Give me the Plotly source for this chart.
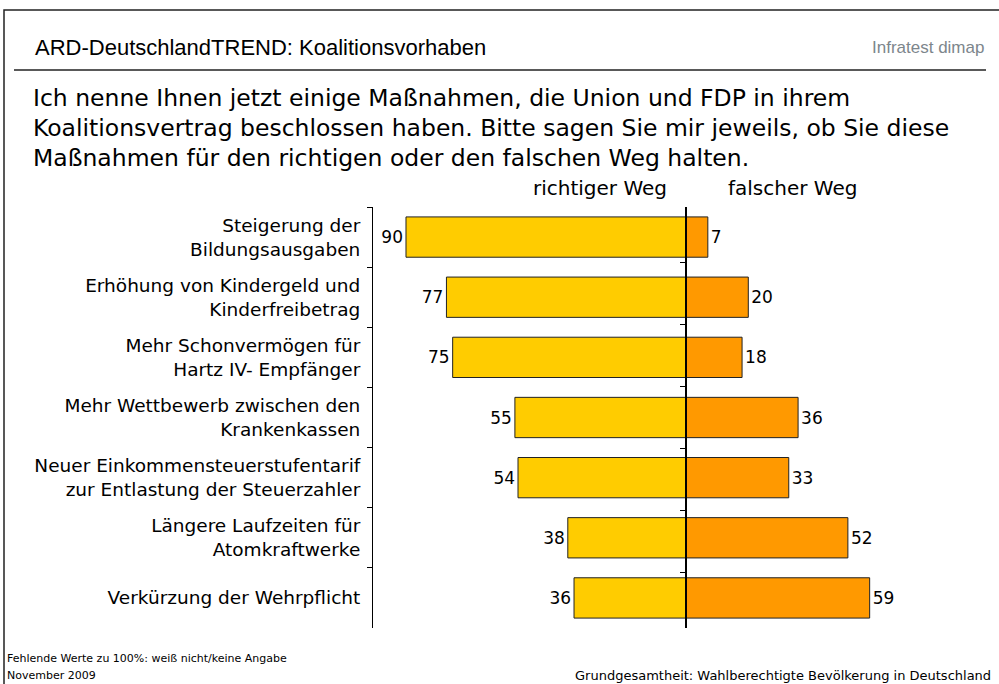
import plotly.graph_objects as go

# ---------------- data ----------------
categories = [
    "Steigerung der<br>Bildungsausgaben",
    "Erhöhung von Kindergeld und<br>Kinderfreibetrag",
    "Mehr Schonvermögen für<br>Hartz IV- Empfänger",
    "Mehr Wettbewerb zwischen den<br>Krankenkassen",
    "Neuer Einkommensteuerstufentarif<br>zur Entlastung der Steuerzahler",
    "Längere Laufzeiten für<br>Atomkraftwerke",
    "Verkürzung der Wehrpflicht",
]
richtiger_weg = [90, 77, 75, 55, 54, 38, 36]
falscher_weg = [7, 20, 18, 36, 33, 52, 59]
series_names = ["richtiger Weg", "falscher Weg"]

title_text = "ARD-DeutschlandTREND: Koalitionsvorhaben"
brand_text = "Infratest dimap"
question_lines = [
    "Ich nenne Ihnen jetzt einige Maßnahmen, die Union und FDP in ihrem",
    "Koalitionsvertrag beschlossen haben. Bitte sagen Sie mir jeweils, ob Sie diese",
    "Maßnahmen für den richtigen oder den falschen Weg halten.",
]
footer_left = ["Fehlende Werte zu 100%: weiß nicht/keine Angabe", "November 2009"]
footer_right = "Grundgesamtheit: Wahlberechtigte Bevölkerung in Deutschland"

# ---------------- layout constants ----------------
W, H = 999, 684
ML, MR, MT, MB = 373, 17, 207, 56
XMIN, XMAX = -100.6, 95.1
YELLOW = "#FFCC00"
ORANGE = "#FF9900"
BODY = "DejaVu Sans"
PW = W - ML - MR
PH = H - MT - MB


def px(xpix):
    return (xpix - ML) / PW


def py(ypix):
    return (H - MB - ypix) / PH


fig = go.Figure()

fig.add_trace(go.Bar(
    y=categories, x=[-v for v in richtiger_weg], orientation="h",
    name=series_names[0], marker=dict(color=YELLOW, line=dict(color="#222", width=1)),
    text=[str(v) for v in richtiger_weg], textposition="outside",
    textfont=dict(family=BODY, size=17, color="black"),
    cliponaxis=False, constraintext="none", hoverinfo="skip",
))
fig.add_trace(go.Bar(
    y=categories, x=falscher_weg, orientation="h",
    name=series_names[1], marker=dict(color=ORANGE, line=dict(color="#222", width=1)),
    text=[str(v) for v in falscher_weg], textposition="outside",
    textfont=dict(family=BODY, size=17, color="black"),
    cliponaxis=False, constraintext="none", hoverinfo="skip",
))
# invisible helper trace for the centre axis
fig.add_trace(go.Scatter(y=categories, x=[0] * len(categories), yaxis="y2",
                         mode="markers", marker=dict(opacity=0), hoverinfo="skip",
                         showlegend=False))

center_pos = (0 - XMIN) / (XMAX - XMIN)

annotations = []
annotations.append(dict(x=px(33), y=py(47), xref="paper", yref="paper", text=title_text,
                        showarrow=False, xanchor="left", yanchor="middle",
                        font=dict(family="Liberation Sans", size=22, color="black")))
annotations.append(dict(x=px(986), y=py(47), xref="paper", yref="paper", text=brand_text,
                        showarrow=False, xanchor="right", yanchor="middle",
                        font=dict(family="Liberation Sans", size=17, color="#7d868c")))
for i, line in enumerate(question_lines):
    annotations.append(dict(x=px(31), y=py(98 + 30 * i), xref="paper", yref="paper",
                            text=line, showarrow=False, xanchor="left", yanchor="middle",
                            font=dict(family=BODY, size=23.5, color="black")))
annotations.append(dict(x=px(600), y=py(188), xref="paper", yref="paper", text=series_names[0],
                        showarrow=False, xanchor="center", yanchor="middle",
                        font=dict(family=BODY, size=20, color="black")))
annotations.append(dict(x=px(792), y=py(188), xref="paper", yref="paper", text=series_names[1],
                        showarrow=False, xanchor="center", yanchor="middle",
                        font=dict(family=BODY, size=20, color="black")))
for i, line in enumerate(footer_left):
    annotations.append(dict(x=px(5), y=py(658 + 17 * i), xref="paper", yref="paper", text=line,
                            showarrow=False, xanchor="left", yanchor="middle",
                            font=dict(family=BODY, size=11, color="black")))
annotations.append(dict(x=px(993), y=py(675), xref="paper", yref="paper", text=footer_right,
                        showarrow=False, xanchor="right", yanchor="middle",
                        font=dict(family=BODY, size=13, color="black")))

shapes = [
    # outer frame
    dict(type="rect", xref="paper", yref="paper", x0=px(4), x1=px(1010), y0=py(700), y1=py(10),
         line=dict(color="#222", width=1.5), fillcolor="rgba(0,0,0,0)", layer="below"),
    # title underline
    dict(type="line", xref="paper", yref="paper", x0=px(14), x1=px(986), y0=py(70), y1=py(70),
         line=dict(color="#222", width=1.5)),
]

fig.update_layout(
    width=W, height=H,
    margin=dict(l=ML, r=MR, t=MT, b=MB, pad=0),
    paper_bgcolor="white", plot_bgcolor="white",
    barmode="relative", bargap=0.33,
    showlegend=False,
    xaxis=dict(range=[XMIN, XMAX], visible=False, fixedrange=True),
    yaxis=dict(type="category", categoryorder="array", categoryarray=categories,
               autorange="reversed", tickson="boundaries", ticks="outside", ticklen=5,
               tickcolor="black", tickwidth=1, showline=True, linecolor="black", linewidth=1,
               showgrid=False, zeroline=False, ticklabelstandoff=8,
               tickfont=dict(family=BODY, size=18.5, color="black")),
    yaxis2=dict(type="category", categoryorder="array", categoryarray=categories,
                autorange="reversed", overlaying="y", anchor="free", position=center_pos,
                side="left", tickson="boundaries", ticks="outside", ticklen=5,
                tickcolor="black", tickwidth=1, showline=True, linecolor="black", linewidth=1.5,
                showgrid=False, zeroline=False, showticklabels=False),
    annotations=annotations,
    shapes=shapes,
)

fig.write_html("out.html", config={"displayModeBar": False},
               post_script="document.body.style.margin='0';")
